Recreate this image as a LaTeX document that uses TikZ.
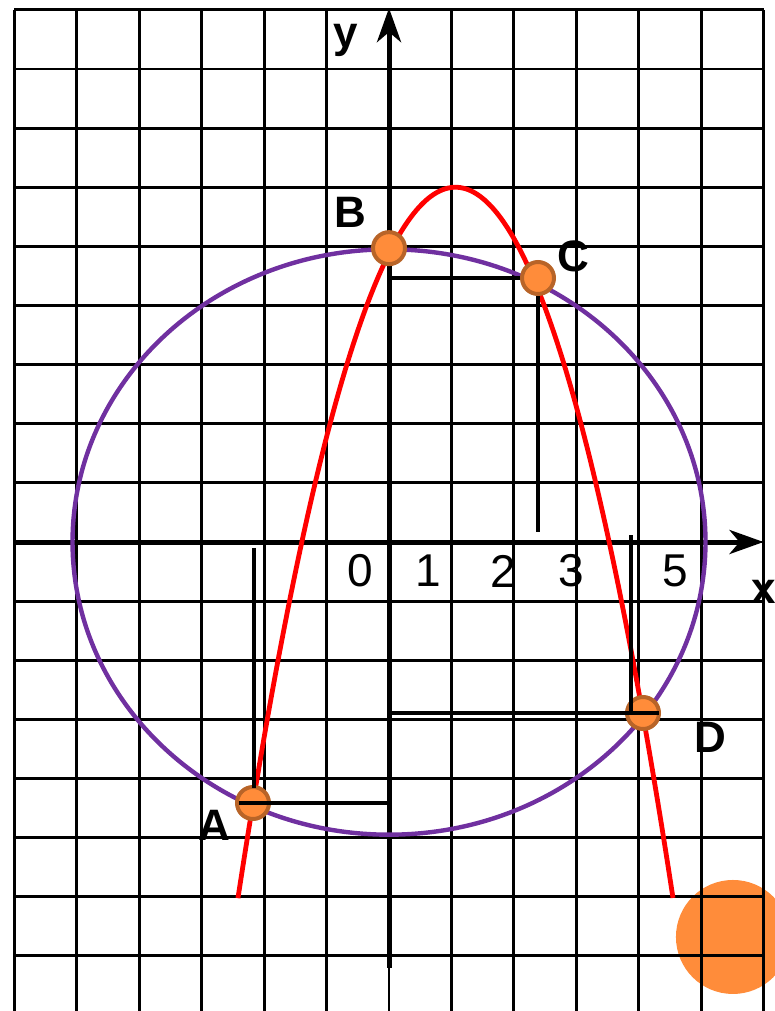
\documentclass[tikz,border=0pt]{standalone}
\usepackage{fontspec}
\setmainfont{Liberation Sans}
\usetikzlibrary{arrows.meta}
\definecolor{dotfill}{RGB}{255,140,58}
\definecolor{dotedge}{RGB}{184,100,40}
\definecolor{ringviolet}{RGB}{112,48,160}
\tikzset{
  gridline/.style={line width=1.4pt},
  axisarrow/.style={line width=2.5pt, -{Stealth[length=17pt, width=12pt, inset=5pt]}},
  dropline/.style={line width=2pt},
  ptdot/.style={circle, fill=dotfill, draw=dotedge, line width=2pt, minimum size=16pt, inner sep=0pt},
  ptlabel/.style={font=\fontsize{22}{26}\selectfont\bfseries},
  ticklabel/.style={font=\fontsize{23}{27}\selectfont}
}

\begin{document}
\begin{tikzpicture}[x=31.21pt, y=29.5625pt]
  \useasboundingbox (-6.232,-7.932) rectangle (6.168,9.167);
  % orange blob bottom right (under the grid)
  \node[circle, fill=dotfill, minimum size=57pt, inner sep=0pt] (blob) at (5.51,-6.68) {};
  % squared paper
  \foreach \i in {-6,...,6}{\draw[gridline] (\i,-7.932) -- (\i,9);}
  \foreach \j in {-7,...,9}{\draw[gridline] (-6,\j) -- (6,\j);}
  % axes
  \coordinate (O) at (0,0);
  \coordinate (xfrom) at (-6,0);   \coordinate (xto) at (6,0);
  \coordinate (yfrom) at (0,-7.2); \coordinate (yto) at (0,9.03);
  \draw[axisarrow] (xfrom) -- (xto);
  \draw[axisarrow] (yfrom) -- (yto);
  \node[ticklabel] (n0) at (-0.465,-0.49) {0};
  \node[ticklabel] (n1) at (0.625,-0.49) {1};
  \node[ticklabel] (n2) at (1.826,-0.49) {2};
  \node[ticklabel] (n3) at (2.916,-0.49) {3};
  \node[ticklabel] (n5) at (4.582,-0.49) {5};
  \node[ptlabel] (xlbl) at (6.0,-0.85) {x};
  \node[ptlabel] (ylbl) at (-0.69,8.49) {y};
  % circle and parabola
  \draw[ringviolet, line width=2.2pt] (O) ellipse [x radius=5.07, y radius=4.95];
  \draw[red, line width=2.4pt] plot[domain=-2.42:4.55, samples=90, smooth] (\x,{6-0.99*(\x-1.065)*(\x-1.065)});
  % intersection points
  \coordinate (pA) at (-2.179,-4.414);
  \coordinate (pB) at (0,4.97);
  \coordinate (pC) at (2.387,4.465);
  \coordinate (pD) at (4.069,-2.892);
  % projections of C
  \coordinate (Cy) at (0,4.465);   \coordinate (Cx) at (2.387,0.17);
  \draw[dropline] (Cy) -- (pC) -- (Cx);
  \node[ptdot] (A) at (pA) {};
  \node[ptdot] (B) at (pB) {};
  \node[ptdot] (C) at (pC) {};
  \node[ptdot] (D) at (pD) {};
  % projections of A and D
  \coordinate (Ay) at (0,-4.414);  \coordinate (Aw) at (-2.403,-4.414);
  \coordinate (Ax) at (-2.163,-0.1); \coordinate (Av) at (-2.163,-4.16);
  \draw[dropline] (Ay) -- (Aw);
  \draw[dropline] (Ax) -- (Av);
  \coordinate (Dy) at (0,-2.892);  \coordinate (De) at (4.326,-2.892);
  \coordinate (Dx) at (3.877,0.118); \coordinate (Dv) at (3.877,-2.892);
  \draw[dropline] (Dy) -- (De);
  \draw[dropline] (Dx) -- (Dv);
  % point names
  \node[ptlabel] (lblA) at (-2.804,-4.80) {A};
  \node[ptlabel] (lblB) at (-0.625,5.58) {B};
  \node[ptlabel] (lblC) at (2.948,4.837) {C};
  \node[ptlabel] (lblD) at (5.143,-3.30) {D};
\end{tikzpicture}
\end{document}
